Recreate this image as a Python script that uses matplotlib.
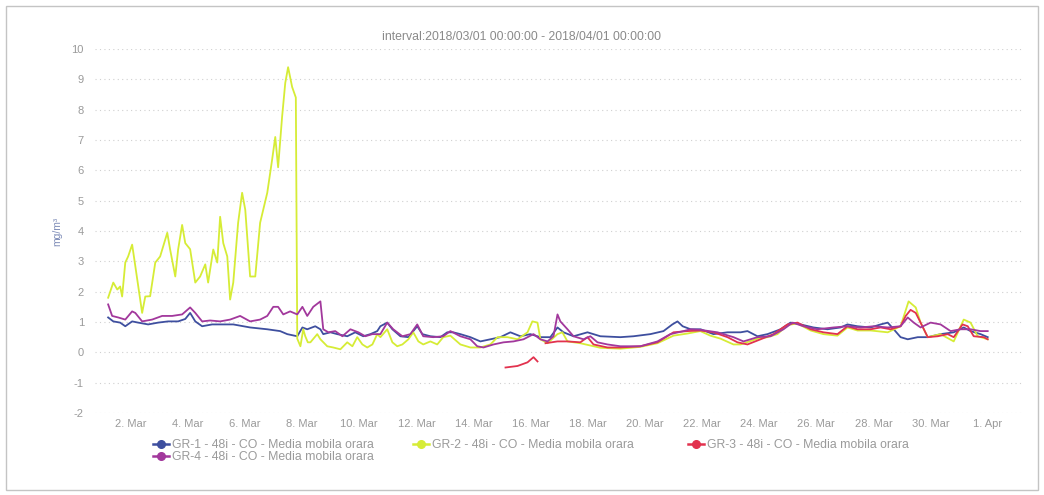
import matplotlib.pyplot as plt
import numpy as np
import pandas as pd
from matplotlib.lines import Line2D
from matplotlib.patches import Rectangle

plt.rcParams['font.family'] = ['Liberation Sans', 'DejaVu Sans']
plt.rcParams['axes.unicode_minus'] = False

debut = pd.Timestamp('2018-03-01')
nan = float('nan')

# temps en jours depuis le 1er mars 00:00, valeurs en mg/m3
t_gr1 = [0.21, 0.39, 0.63, 0.81, 1.05, 1.26, 1.61, 1.96, 2.31, 2.66, 2.91, 3.08, 3.26, 3.50,
         3.85, 4.03, 4.59, 5.18, 5.78, 6.23, 6.48, 6.83, 7.01, 7.18, 7.46, 7.64, 7.74, 7.99,
         8.23, 8.58, 8.86, 9.14, 9.39, 9.63, 9.74, 9.98, 10.16, 10.44, 10.72, 11.03, 11.21,
         11.49, 11.84, 12.08, 12.29, 12.54, 12.89, 13.24, 13.59, 13.94, 14.29, 14.64, 14.99,
         15.34, 15.69, 15.94, 16.15, 16.50, 16.99, 17.44, 18.14, 18.60, 19.19, 19.65, 19.96,
         20.14, 20.32, 20.60, 20.95, 21.40, 21.89, 22.35, 22.59, 22.94, 23.29, 23.75, 24.10,
         24.45, 24.90, 25.39, 25.85, 26.09, 26.44, 26.90, 27.25, 27.50, 27.71, 27.95, 28.20,
         28.55, 28.90, 29.35, 29.81, 30.16, 30.40, 30.75, 31.00]
v_gr1 = [1.15, 1.02, 0.98, 0.86, 1.02, 0.98, 0.92, 0.98, 1.02, 1.02, 1.10, 1.30, 1.02, 0.86,
         0.92, 0.92, 0.92, 0.82, 0.76, 0.70, 0.60, 0.53, 0.82, 0.76, 0.86, 0.76, 0.60, 0.66,
         0.60, 0.53, 0.66, 0.53, 0.60, 0.70, 0.86, 0.98, 0.76, 0.53, 0.50, 0.86, 0.60,
         0.53, 0.50, 0.66, 0.66, 0.60, 0.50, 0.36, 0.43, 0.50, 0.66, 0.53, 0.60,
         0.50, 0.50, 0.82, 0.66, 0.53, 0.66, 0.53, 0.50, 0.53, 0.60, 0.70, 0.92,
         1.02, 0.86, 0.76, 0.76, 0.60, 0.66, 0.66, 0.70, 0.53, 0.60, 0.76, 0.98,
         0.92, 0.82, 0.76, 0.82, 0.92, 0.86, 0.82, 0.92, 0.98, 0.76, 0.50, 0.43,
         0.50, 0.50, 0.60, 0.66, 0.82, 0.70, 0.60, 0.50]

t_gr2 = [0.21, 0.39, 0.53, 0.63, 0.70, 0.81, 0.91, 1.05, 1.09, 1.23, 1.40, 1.51, 1.68, 1.86,
         2.03, 2.14, 2.28, 2.38, 2.56, 2.66, 2.80, 2.91, 3.08, 3.26, 3.43, 3.61, 3.71, 3.89,
         4.03, 4.13, 4.24, 4.38, 4.48, 4.59, 4.76, 4.90, 5.01, 5.18, 5.36, 5.53, 5.64, 5.78,
         5.95, 6.06, 6.16, 6.30, 6.41, 6.51, 6.65, 6.78, 6.83, 6.94, 7.04, 7.11, 7.20, 7.29,
         7.53, 7.64, 7.88, 8.09, 8.34, 8.58, 8.76, 8.93, 9.11, 9.28, 9.46, 9.63, 9.74, 9.98,
         10.16, 10.33, 10.51, 10.72, 10.89, 11.07, 11.24, 11.49, 11.73, 11.94, 12.19, 12.54,
         12.89, 13.24, 13.59, 13.84, 14.19, 14.54, 14.89, 15.06, 15.24, 15.34, 15.59, 15.94,
         16.11, 16.29, 16.74, 17.44, 18.14, 18.84, 19.44, 20.00, 20.49, 20.94, 21.29, 21.65,
         22.10, 22.35, 22.94, 23.29, 23.64, 23.99, 24.34, 24.80, 25.25, 25.74, 26.09, 26.44,
         26.90, 27.50, 27.95, 28.23, 28.48, 28.65, 28.90, 29.35, 29.81, 30.16, 30.40, 30.65,
         31.00]
v_gr2 = [1.80, 2.30, 2.07, 2.17, 1.84, 2.96, 3.16, 3.55, 3.30, 2.40, 1.30, 1.84, 1.85, 2.96,
         3.16, 3.50, 3.94, 3.39, 2.50, 3.39, 4.20, 3.60, 3.40, 2.30, 2.50, 2.90, 2.30, 3.39,
         2.96, 4.47, 3.60, 3.16, 1.74, 2.30, 4.27, 5.26, 4.70, 2.50, 2.50, 4.27, 4.70, 5.26,
         6.35, 7.10, 6.10, 7.77, 8.88, 9.40, 8.75, 8.40, 0.45, 0.20, 0.76, 0.53, 0.33, 0.33,
         0.60, 0.43, 0.20, 0.16, 0.10, 0.33, 0.20, 0.50, 0.26, 0.16, 0.26, 0.60, 0.50, 0.76,
         0.33, 0.20, 0.26, 0.43, 0.66, 0.36, 0.26, 0.36, 0.26, 0.50, 0.55, 0.26,
         0.16, 0.16, 0.26, 0.50, 0.50, 0.43, 0.66, 1.02, 0.98, 0.43, 0.30, 0.60,
         0.66, 0.36, 0.30, 0.15, 0.12, 0.18, 0.30, 0.55, 0.62, 0.70, 0.55, 0.45,
         0.26, 0.26, 0.45, 0.50, 0.60, 0.90, 0.95, 0.72, 0.60, 0.55, 0.82, 0.72,
         0.72, 0.66, 0.86, 1.68, 1.48, 0.98, 0.50, 0.60, 0.36, 1.08, 0.98, 0.53,
         0.43]

# GR-3 : un petit bout negatif puis une coupure
t_gr3 = [14.12, 14.54, 14.89, 15.10, 15.24, 15.38, 15.52, 15.94, 16.29, 16.74, 16.99, 17.20,
         17.69, 18.14, 18.84, 19.44, 20.00, 20.49, 20.95, 21.40, 21.89, 22.24, 22.59, 23.05,
         23.50, 23.99, 24.34, 24.80, 25.25, 25.74, 26.09, 26.44, 26.90, 27.25, 27.60, 27.95,
         28.13, 28.30, 28.48, 28.65, 28.90, 29.25, 29.60, 29.81, 30.12, 30.30, 30.51, 30.86,
         31.00]
v_gr3 = [-0.50, -0.45, -0.33, -0.16, -0.30, nan, 0.30, 0.36, 0.36, 0.33, 0.50, 0.26,
         0.16, 0.16, 0.20, 0.33, 0.66, 0.70, 0.72, 0.66, 0.50, 0.33, 0.26, 0.43,
         0.60, 0.92, 0.98, 0.76, 0.66, 0.60, 0.86, 0.76, 0.76, 0.82, 0.76, 0.86,
         1.20, 1.40, 1.30, 0.98, 0.50, 0.53, 0.60, 0.50, 0.92, 0.86, 0.53, 0.50,
         0.43]

t_gr4 = [0.21, 0.35, 0.56, 0.81, 1.05, 1.16, 1.40, 1.75, 2.10, 2.45, 2.80, 3.08, 3.26, 3.50,
         3.78, 4.13, 4.48, 4.83, 5.18, 5.53, 5.78, 5.99, 6.16, 6.34, 6.58, 6.83, 7.01, 7.18,
         7.39, 7.57, 7.64, 7.74, 7.92, 8.16, 8.41, 8.69, 8.97, 9.21, 9.46, 9.74, 9.98, 10.19,
         10.51, 10.79, 11.03, 11.24, 11.59, 11.94, 12.19, 12.54, 12.89, 13.13, 13.35, 13.70,
         14.05, 14.40, 14.75, 15.10, 15.34, 15.59, 15.80, 15.94, 16.04, 16.29, 16.50, 16.85,
         17.09, 17.34, 17.69, 18.14, 18.84, 19.44, 19.89, 20.35, 20.60, 20.95, 21.54, 22.10,
         22.45, 22.94, 23.40, 23.85, 24.17, 24.55, 25.04, 25.60, 26.09, 26.55, 27.01, 27.50,
         27.95, 28.20, 28.41, 28.65, 29.00, 29.35, 29.70, 30.05, 30.40, 30.75, 31.00]
v_gr4 = [1.58, 1.20, 1.15, 1.08, 1.35, 1.30, 1.02, 1.08, 1.20, 1.20, 1.25, 1.48, 1.30, 1.02,
         1.05, 1.02, 1.08, 1.20, 1.02, 1.08, 1.20, 1.50, 1.50, 1.25, 1.35, 1.25, 1.50, 1.20,
         1.50, 1.63, 1.68, 0.76, 0.66, 0.70, 0.53, 0.76, 0.66, 0.53, 0.60, 0.60, 0.98, 0.76,
         0.53, 0.60, 0.92, 0.53, 0.50, 0.53, 0.70, 0.53, 0.43, 0.20, 0.16, 0.26,
         0.33, 0.36, 0.43, 0.60, 0.43, 0.36, 0.53, 1.25, 1.02, 0.76, 0.53, 0.43,
         0.53, 0.33, 0.26, 0.20, 0.20, 0.36, 0.60, 0.70, 0.76, 0.74, 0.66, 0.50,
         0.36, 0.50, 0.53, 0.76, 0.98, 0.86, 0.76, 0.82, 0.86, 0.82, 0.86, 0.82,
         0.86, 1.15, 0.98, 0.82, 0.98, 0.92, 0.70, 0.76, 0.76, 0.70, 0.70]

noms = ["GR-1 - 48i - CO - Media mobila orara",
        "GR-2 - 48i - CO - Media mobila orara",
        "GR-3 - 48i - CO - Media mobila orara",
        "GR-4 - 48i - CO - Media mobila orara"]
couleurs = ['#3e4f9f', '#d6ec36', '#e2324e', '#a2389c']

ticks_x = list(pd.date_range('2018-03-02', '2018-03-30', freq='2D')) + [pd.Timestamp('2018-04-01')]


def en_dates(jours):
    return debut + pd.to_timedelta(np.array(jours) * 24.0, unit='h')


W, H = 1044, 495
fig = plt.figure(figsize=(W / 100, H / 100), dpi=100)
ax = fig.add_axes([95 / W, 1 - 413 / H, (1022 - 95) / W, (413 - 49) / H])

series = [(t_gr1, v_gr1), (t_gr2, v_gr2), (t_gr3, v_gr3), (t_gr4, v_gr4)]
for (t, v), c in zip(series, couleurs):
    ax.plot(en_dates(t), v, color=c, lw=1.3, solid_joinstyle='round')

ax.set_ylim(-2, 10)
ax.set_yticks(range(-2, 11))
ax.set_xlim(debut - pd.Timedelta(hours=6), debut + pd.Timedelta(days=32.2))
ax.set_xticks(ticks_x)
ax.set_xticklabels(["{}. {}".format(d.day, d.strftime('%b')) for d in ticks_x])

for s in ax.spines.values():
    s.set_visible(False)
ax.tick_params(axis='both', length=0, colors='#9a9a9a', labelsize=8)
ax.tick_params(axis='y', pad=8)
ax.tick_params(axis='x', pad=4)
ax.grid(axis='y', color='#d0d0d0', linestyle=(0, (1, 3)), lw=0.8)
ax.set_axisbelow(True)

fig.text(521 / W, 1 - 37 / H, "interval:2018/03/01 00:00:00 - 2018/04/01 00:00:00",
         ha='center', va='center', fontsize=8.8, color='#8a8a8a')
fig.text(57 / W, 1 - 231 / H, "mg/m³", rotation=90, ha='center', va='center',
         fontsize=7.5, color='#7f8db8')

# legende faite a la main : GR-1, GR-2, GR-3 sur la premiere ligne, GR-4 en dessous
pos_legende = [(153, 444), (413, 444), (688, 444), (153, 456)]
for (px, py), nom, c in zip(pos_legende, noms, couleurs):
    fig.add_artist(Line2D([px / W, (px + 16) / W], [1 - py / H, 1 - py / H],
                          transform=fig.transFigure, color=c, lw=1.8))
    fig.add_artist(Line2D([(px + 8) / W], [1 - py / H], transform=fig.transFigure,
                          color=c, marker='o', markersize=5.5, lw=0))
    fig.text((px + 19) / W, 1 - (py + 1.5) / H, nom, ha='left', va='center',
             fontsize=8.8, color='#9a9a9a')

fig.patches.append(Rectangle((6 / W, 5 / H), 1032 / W, 484 / H,
                             transform=fig.transFigure, fill=False,
                             edgecolor='#c4c4c4', lw=1.0))

fig.savefig('out.png', dpi=100)
